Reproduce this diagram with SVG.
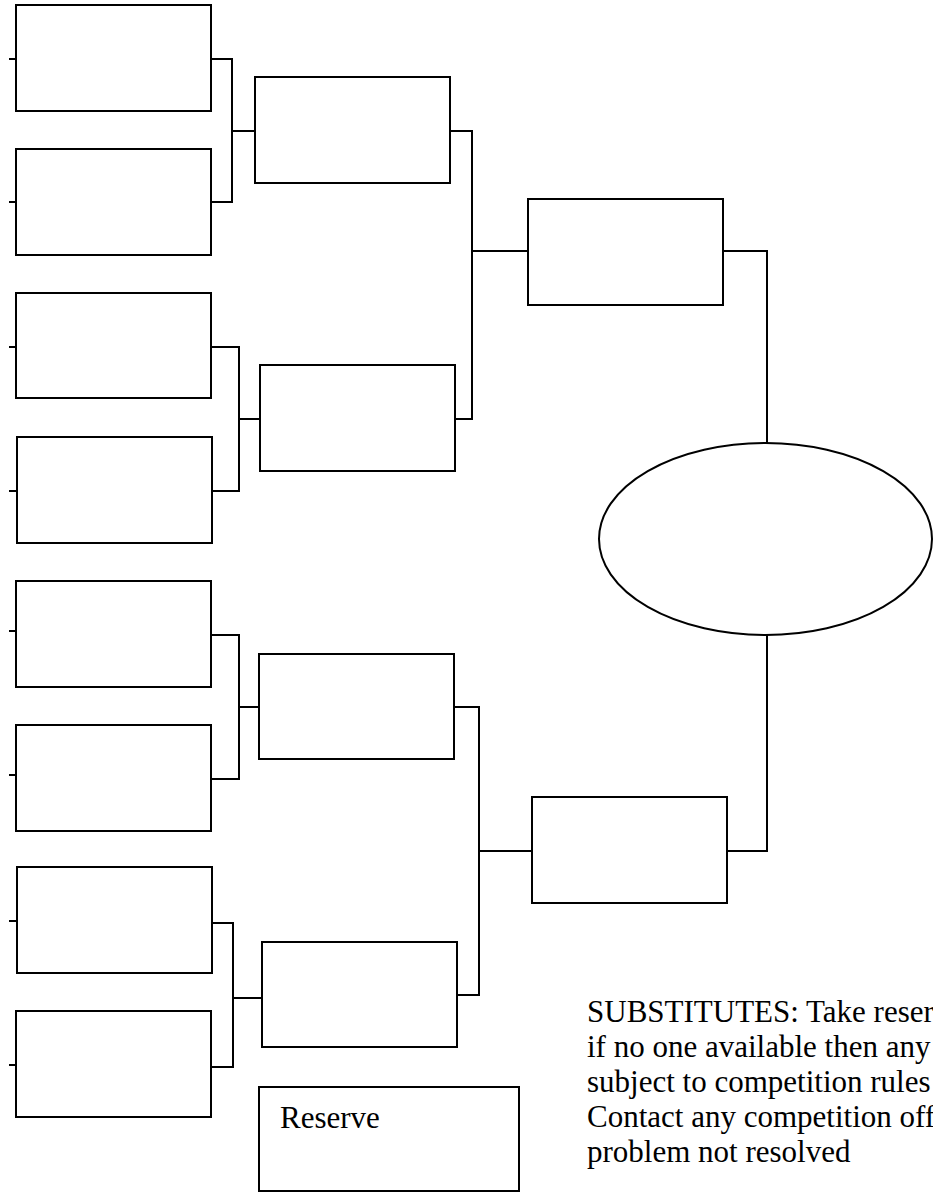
<svg xmlns="http://www.w3.org/2000/svg" width="933" height="1193" viewBox="0 0 933 1193">
<style>
.box{fill:#fff;stroke:#000;stroke-width:2}
.con{fill:none;stroke:#000;stroke-width:2}
.txt{font-family:"Liberation Serif","Times New Roman",serif;font-size:31px;fill:#000}
</style>
<rect width="933" height="1193" fill="#fff"/>
<g id="connectors">
<path class="con" d="M9 59H16M9 202H16M9 347H16M9 491H17M9 631H16M9 775H16M9 921H17M9 1065H16"/>
<path class="con" d="M211 59H232V202H211M232 131H255"/>
<path class="con" d="M211 347H239V491H212M239 419H260"/>
<path class="con" d="M211 635H239V779H211M239 707H259"/>
<path class="con" d="M212 923H233V1067H211M233 998H262"/>
<path class="con" d="M450 131H472V419H455M472 251H528"/>
<path class="con" d="M454 707H479V995H457M479 851H532"/>
<path class="con" d="M723 251H767V443"/>
<path class="con" d="M727 851H767V635"/>
</g>
<g id="r1-1"><rect class="box" x="16" y="5" width="195" height="106"/></g>
<g id="r1-2"><rect class="box" x="16" y="149" width="195" height="106"/></g>
<g id="r1-3"><rect class="box" x="16" y="293" width="195" height="105"/></g>
<g id="r1-4"><rect class="box" x="17" y="437" width="195" height="106"/></g>
<g id="r1-5"><rect class="box" x="16" y="581" width="195" height="106"/></g>
<g id="r1-6"><rect class="box" x="16" y="725" width="195" height="106"/></g>
<g id="r1-7"><rect class="box" x="17" y="867" width="195" height="106"/></g>
<g id="r1-8"><rect class="box" x="16" y="1011" width="195" height="106"/></g>
<g id="r2-1"><rect class="box" x="255" y="77" width="195" height="106"/></g>
<g id="r2-2"><rect class="box" x="260" y="365" width="195" height="106"/></g>
<g id="r2-3"><rect class="box" x="259" y="654" width="195" height="105"/></g>
<g id="r2-4"><rect class="box" x="262" y="942" width="195" height="105"/></g>
<g id="r3-1"><rect class="box" x="528" y="199" width="195" height="106"/></g>
<g id="r3-2"><rect class="box" x="532" y="797" width="195" height="106"/></g>
<g id="final"><ellipse class="box" cx="765.5" cy="539" rx="166.5" ry="96"/></g>
<g id="reserve"><rect class="box" x="259" y="1087" width="260" height="104"/><text class="txt" x="280" y="1128">Reserve</text></g>
<g id="note">
<text class="txt" x="587" y="1022">SUBSTITUTES: Take reser</text>
<text class="txt" x="587" y="1057">if no one available then any</text>
<text class="txt" x="587" y="1092">subject to competition rules</text>
<text class="txt" x="587" y="1127">Contact any competition off</text>
<text class="txt" x="587" y="1162">problem not resolved</text>
</g>
</svg>
